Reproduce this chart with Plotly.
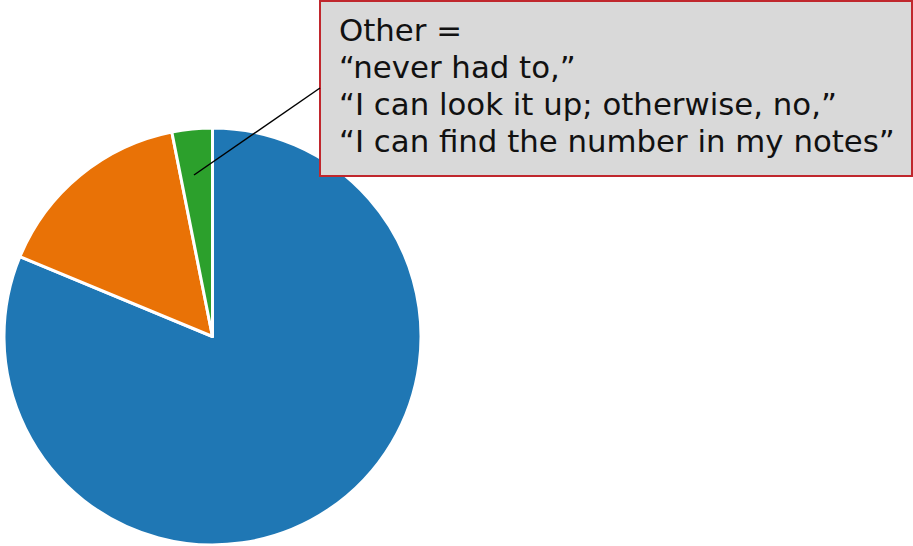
import plotly.graph_objects as go

labels = ["Yes", "No", "Other"]
values = [26, 5, 1]
colors = ["#1f77b4", "#e97206", "#2ca02c"]

note_lines = [
    "Other =",
    "\u201cnever had to,\u201d",
    "\u201cI can look it up; otherwise, no,\u201d",
    "\u201cI can find the number in my notes\u201d",
]

W, H = 913, 546

fig = go.Figure(go.Pie(
    labels=labels,
    values=values,
    sort=False,
    direction="clockwise",
    rotation=0,
    marker=dict(colors=colors, line=dict(color="white", width=3)),
    textinfo="none",
    hoverinfo="label+value+percent",
    showlegend=False,
    domain=dict(x=[4 / W, 421 / W], y=[1 / H, 418 / H]),
))

# callout box
fig.add_shape(type="rect", xref="paper", yref="paper",
              x0=320 / W, x1=912 / W, y0=1 - 176 / H, y1=1 - 1 / H,
              fillcolor="#d9d9d9", line=dict(color="#c0272d", width=2), layer="above")
# leader line
fig.add_shape(type="line", xref="paper", yref="paper",
              x0=194 / W, y0=1 - 175 / H, x1=320 / W, y1=1 - 88 / H,
              line=dict(color="black", width=1.5), layer="above")

line_centers = [30, 67, 104, 141]
for txt, yc in zip(note_lines, line_centers):
    fig.add_annotation(
        xref="paper", yref="paper", x=337 / W, y=1 - yc / H,
        xanchor="left", yanchor="middle", align="left", showarrow=False,
        text=txt,
        font=dict(family="DejaVu Sans", size=30.8, color="#111111"),
    )

fig.update_layout(
    width=W, height=H,
    margin=dict(l=0, r=0, t=0, b=0),
    paper_bgcolor="white", plot_bgcolor="white",
)

fig.write_html("out.html", config={"displayModeBar": False},
               post_script="document.body.style.margin='0';")
